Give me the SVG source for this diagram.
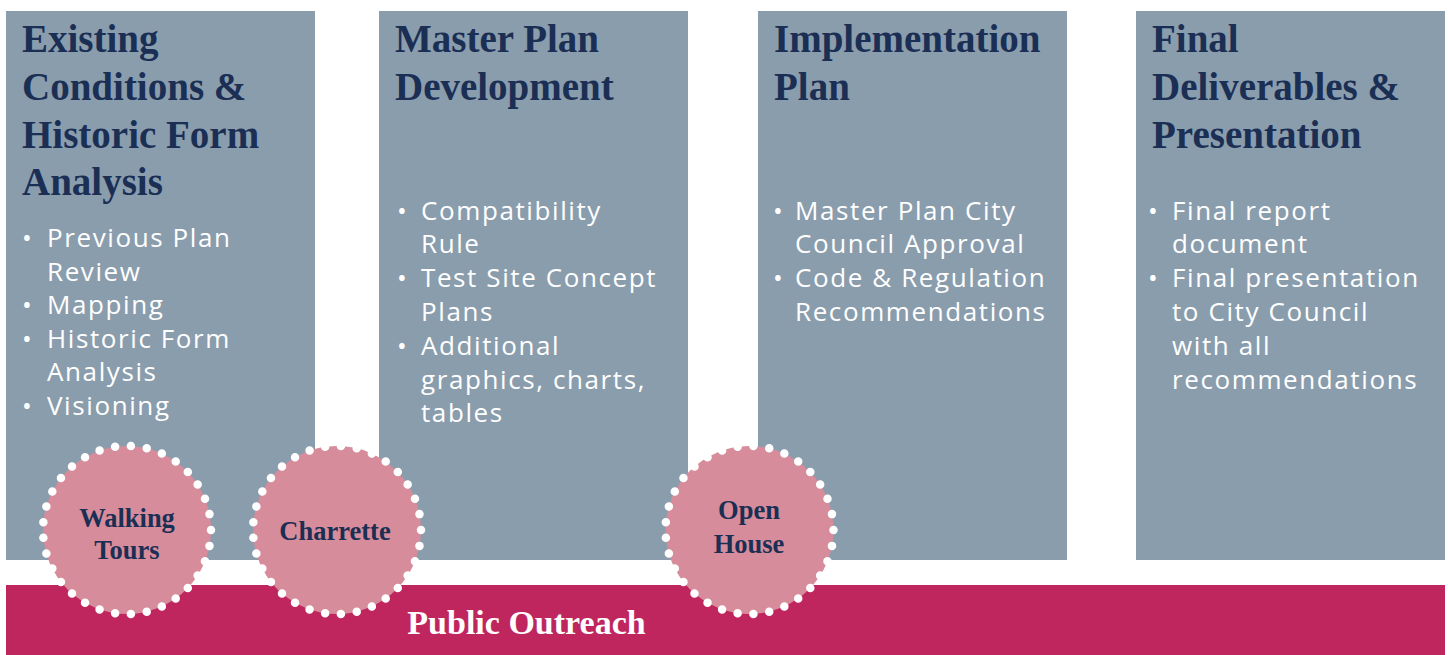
<svg xmlns="http://www.w3.org/2000/svg" width="1448" height="655" viewBox="0 0 1448 655">
<style>
.box{fill:#8A9DAD}
.title{font-family:"Liberation Serif","Times New Roman",serif;font-weight:bold;font-size:39px;fill:#1B2F55}
.body{font-family:"Open Sans","Liberation Sans",sans-serif;font-size:26px;fill:#FFFFFF;letter-spacing:1.6px}
.bul{font-family:"Open Sans","Liberation Sans",sans-serif;font-size:26px;fill:#FFFFFF;text-anchor:middle}
.bar{fill:#C0265E}
.dot{fill:#D68C9A;stroke:#FFFFFF;stroke-width:8.5;stroke-linecap:round;stroke-dasharray:0 1}
.ctext{font-family:"Liberation Serif","Times New Roman",serif;font-weight:bold;font-size:26.5px;fill:#1B2F55;text-anchor:middle}
.ptext{font-family:"Liberation Serif","Times New Roman",serif;font-weight:bold;font-size:34px;fill:#FFFFFF;text-anchor:middle}
</style>
<rect width="1448" height="655" fill="#FFFFFF"/>
<g id="phase1">
<rect class="box" x="6" y="11" width="309" height="549"/>
<text class="title"><tspan x="22" y="52">Existing</tspan><tspan x="22" y="100">Conditions &amp;</tspan><tspan x="22" y="148">Historic Form</tspan><tspan x="22" y="195">Analysis</tspan></text>
<text class="bul"><tspan x="27" y="247">•</tspan><tspan x="27" y="314">•</tspan><tspan x="27" y="348">•</tspan><tspan x="27" y="415">•</tspan></text>
<text class="body"><tspan x="47" y="247">Previous Plan</tspan><tspan x="47" y="281">Review</tspan><tspan x="47" y="314">Mapping</tspan><tspan x="47" y="348">Historic Form</tspan><tspan x="47" y="381">Analysis</tspan><tspan x="47" y="415">Visioning</tspan></text>
</g>
<g id="phase2">
<rect class="box" x="379" y="11" width="309" height="549"/>
<text class="title"><tspan x="395" y="52">Master Plan</tspan><tspan x="395" y="100">Development</tspan></text>
<text class="bul"><tspan x="402" y="220">•</tspan><tspan x="402" y="287">•</tspan><tspan x="402" y="355">•</tspan></text>
<text class="body"><tspan x="421" y="220">Compatibility</tspan><tspan x="421" y="253">Rule</tspan><tspan x="421" y="287">Test Site Concept</tspan><tspan x="421" y="321">Plans</tspan><tspan x="421" y="355">Additional</tspan><tspan x="421" y="389">graphics, charts,</tspan><tspan x="421" y="422">tables</tspan></text>
</g>
<g id="phase3">
<rect class="box" x="758" y="11" width="309" height="549"/>
<text class="title"><tspan x="774" y="52">Implementation</tspan><tspan x="774" y="100">Plan</tspan></text>
<text class="bul"><tspan x="778" y="220">•</tspan><tspan x="778" y="287">•</tspan></text>
<text class="body"><tspan x="795" y="220">Master Plan City</tspan><tspan x="795" y="253">Council Approval</tspan><tspan x="795" y="287">Code &amp; Regulation</tspan><tspan x="795" y="321">Recommendations</tspan></text>
</g>
<g id="phase4">
<rect class="box" x="1136" y="11" width="309" height="549"/>
<text class="title"><tspan x="1152" y="52">Final</tspan><tspan x="1152" y="100">Deliverables &amp;</tspan><tspan x="1152" y="148">Presentation</tspan></text>
<text class="bul"><tspan x="1153" y="220">•</tspan><tspan x="1153" y="287">•</tspan></text>
<text class="body"><tspan x="1172" y="220">Final report</tspan><tspan x="1172" y="253">document</tspan><tspan x="1172" y="287">Final presentation</tspan><tspan x="1172" y="321">to City Council</tspan><tspan x="1172" y="355">with all</tspan><tspan x="1172" y="389">recommendations</tspan></text>
</g>
<g id="public-outreach">
<rect class="bar" x="6" y="585" width="1439" height="70"/>
<text class="ptext" x="526.5" y="634">Public Outreach</text>
</g>
<g id="connectors"></g>
<g id="walking-tours">
<circle class="dot" cx="127" cy="530" r="84" pathLength="33"/>
<text class="ctext"><tspan x="127" y="527">Walking</tspan><tspan x="127" y="559">Tours</tspan></text>
</g>
<g id="charrette">
<circle class="dot" cx="337" cy="530" r="84" pathLength="33"/>
<text class="ctext" x="335" y="540">Charrette</text>
</g>
<g id="open-house">
<circle class="dot" cx="749.5" cy="530" r="84" pathLength="33"/>
<text class="ctext"><tspan x="749" y="519">Open</tspan><tspan x="749" y="553">House</tspan></text>
</g>
</svg>
